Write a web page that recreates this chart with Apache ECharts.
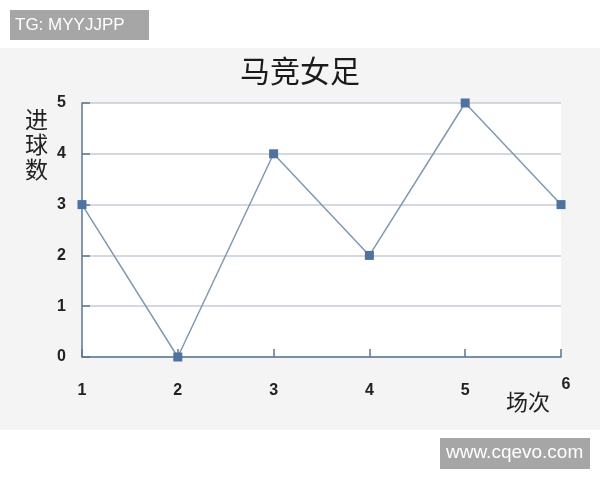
<!DOCTYPE html>
<html><head><meta charset="utf-8">
<script src="https://cdn.jsdelivr.net/npm/echarts@6/dist/echarts.min.js"></script>
<style>html,body{margin:0;padding:0;background:#fff}#c{width:600px;height:480px}</style>
</head><body><div id="c"></div>
<script>
const matchNo = [1, 2, 3, 4, 5, 6];
const goals = [3, 0, 4, 2, 5, 3];
const title = '马竞女足';
const xName = '场次';
const yName = '进球数';

const chart = echarts.init(document.getElementById('c'), null, {renderer: 'canvas'});
const lblFont = {fontFamily: 'Liberation Sans, Arial, sans-serif', fontSize: 16, color: '#222', fontWeight: 'bold'};
chart.setOption({
  backgroundColor: '#fff',
  animation: false,
  graphic: [
    {type: 'rect', z: -10, shape: {x: 0, y: 48, width: 600, height: 382}, style: {fill: '#f4f4f4'}},
    {type: 'rect', shape: {x: 10, y: 10, width: 139, height: 30}, style: {fill: '#a6a6a6'}},
    {type: 'text', x: 15, y: 25, style: {text: 'TG: MYYJJPP', fill: '#fff', font: '17px Liberation Sans, Arial, sans-serif', verticalAlign: 'middle'}},
    {type: 'rect', shape: {x: 440, y: 438, width: 150, height: 31}, style: {fill: '#a6a6a6'}},
    {type: 'text', x: 446, y: 453, style: {text: 'www.cqevo.com', fill: '#fff', font: '19px Liberation Sans, Arial, sans-serif', verticalAlign: 'middle'}},
    {type: 'text', x: 506, y: 402, style: {text: xName, fill: '#222', font: '22px Noto Sans CJK SC, sans-serif', verticalAlign: 'middle'}},
    {type: 'text', x: 25, y: 107, style: {text: yName.split('').join('\n'), fill: '#222', font: '23px Noto Sans CJK SC, sans-serif', lineHeight: 25}}
  ],
  title: {
    text: title, left: 'center', top: 51,
    textStyle: {fontFamily: 'Noto Sans CJK SC, sans-serif', fontSize: 30, fontWeight: 'normal', color: '#1a1a1a'}
  },
  grid: {left: 82, right: 39, top: 103, bottom: 123, show: true, backgroundColor: '#fff', borderWidth: 0},
  xAxis: {
    type: 'value', min: 1, max: 6, interval: 1,
    axisLine: {show: true, lineStyle: {color: '#5b7796', width: 1.5}},
    axisTick: {show: true, inside: true, length: 8, lineStyle: {color: '#5b7796', width: 1.5}},
    axisLabel: Object.assign({margin: 26,
      formatter: v => v === 6 ? '{h|' + v + '}' : String(v),
      rich: {h: Object.assign({padding: [0, 0, 0, 10], lineHeight: 10, verticalAlign: 'bottom'}, lblFont)}
    }, lblFont),
    splitLine: {show: false}
  },
  yAxis: {
    type: 'value', min: 0, max: 5, interval: 1,
    axisLine: {show: true, lineStyle: {color: '#5b7796', width: 1.5}},
    axisTick: {show: true, inside: true, length: 8, lineStyle: {color: '#5b7796', width: 1.5}},
    axisLabel: Object.assign({margin: 16}, lblFont),
    splitLine: {show: true, lineStyle: {color: '#c6cdd4', width: 1.5}}
  },
  series: [{
    type: 'line',
    data: matchNo.map((m, i) => [m, goals[i]]),
    symbol: 'rect', symbolSize: 9,
    itemStyle: {color: '#4f73a0'},
    lineStyle: {color: '#8298b0', width: 1.5},
    clip: false
  }]
});
</script></body></html>
